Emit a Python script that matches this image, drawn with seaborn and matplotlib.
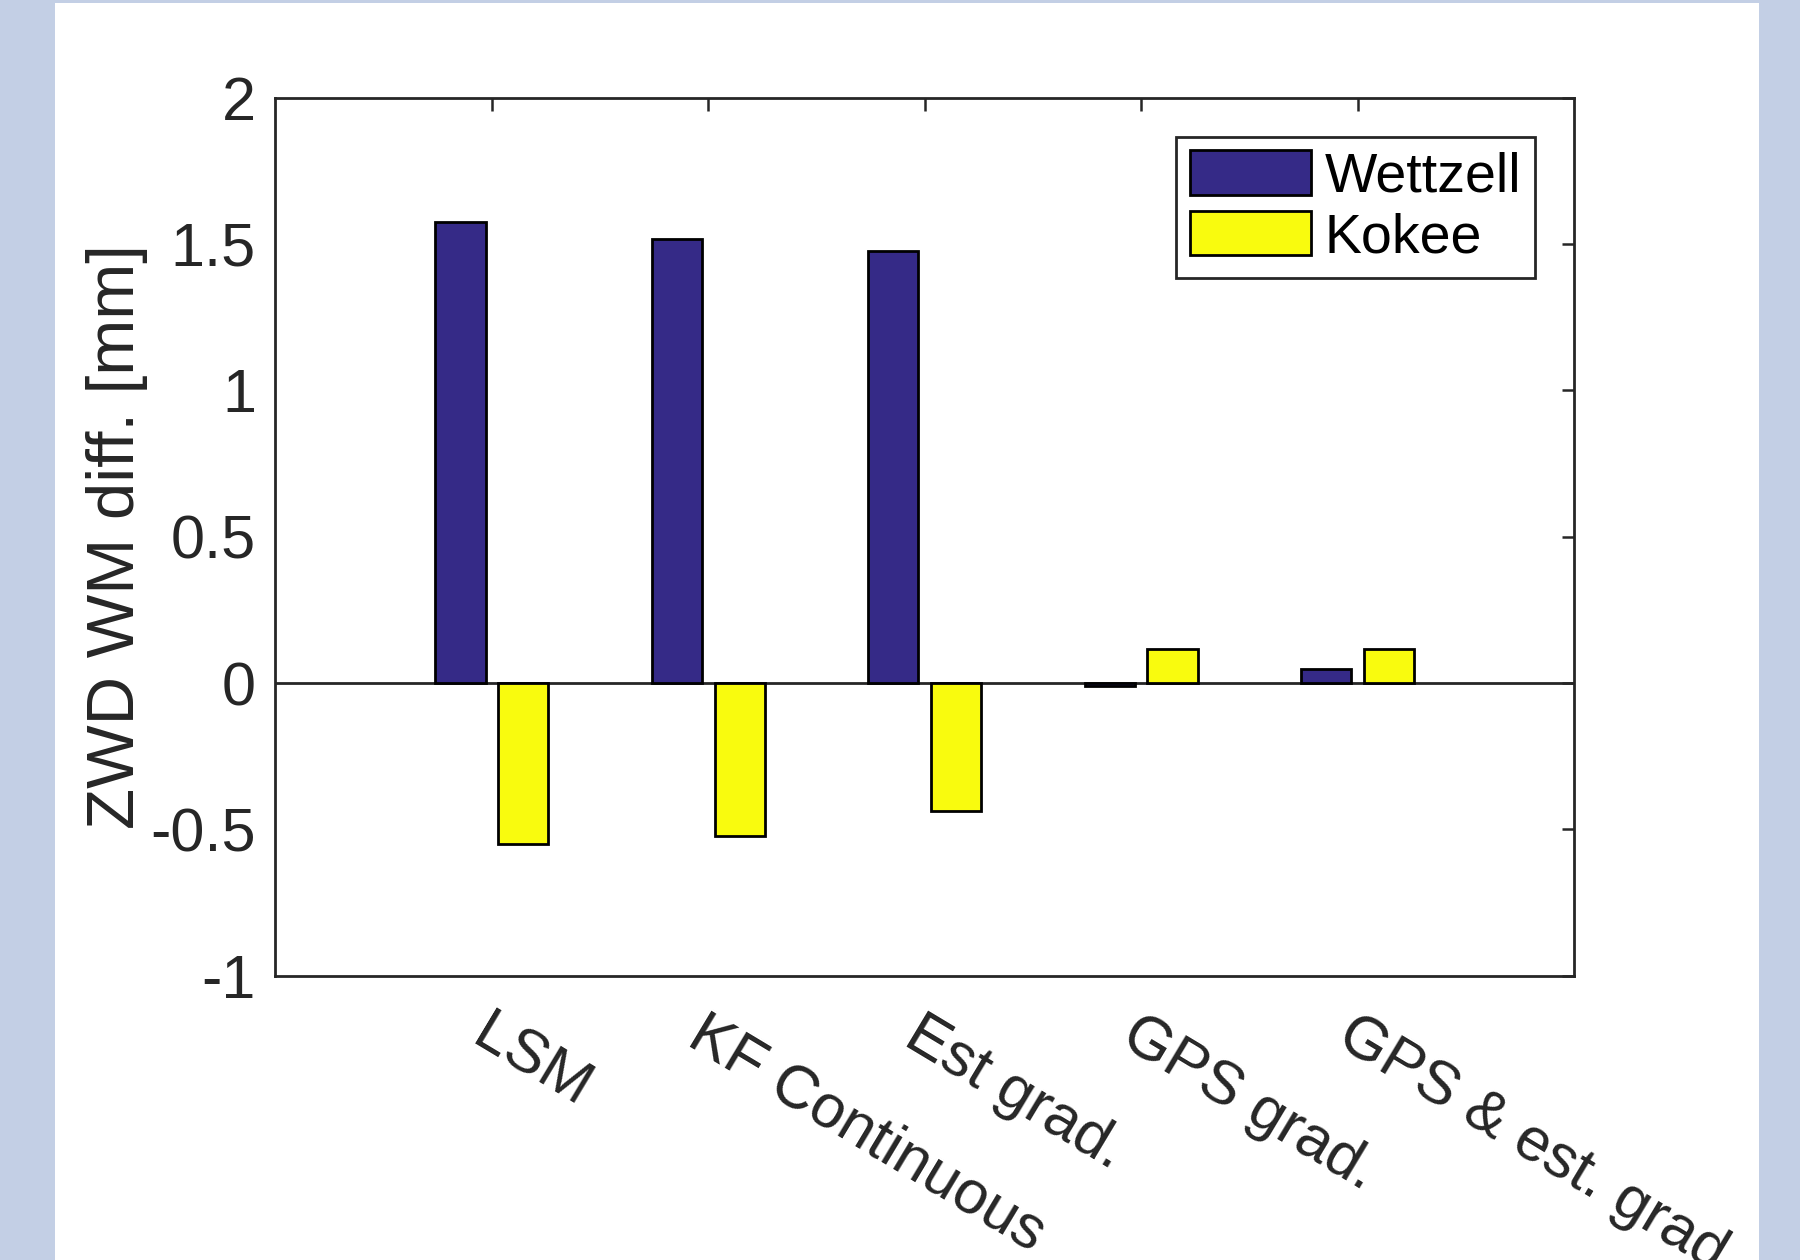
import numpy as np
import pandas as pd
import seaborn as sns
import matplotlib.pyplot as plt
from matplotlib.patches import Rectangle

categories = ["LSM", "KF Continuous", "Est grad.", "GPS grad.", "GPS & est. grad."]
wettzell = [1.576, 1.518, 1.475, -0.011, 0.047]
kokee = [-0.551, -0.523, -0.437, 0.117, 0.115]
stations = ["Wettzell", "Kokee"]
colors = ["#352a87", "#f9fb0e"]
ytick_vals = [-1, -0.5, 0, 0.5, 1, 1.5, 2]
ytick_labels = ["-1", "-0.5", "0", "0.5", "1", "1.5", "2"]


def main():
    df = pd.DataFrame({
        "method": categories * 2,
        "value": wettzell + kokee,
        "station": [stations[0]] * len(categories) + [stations[1]] * len(categories),
    })

    sns.set_style("white")
    plt.rcParams["font.family"] = ["Liberation Sans", "DejaVu Sans"]
    ink = "#262626"

    fig = plt.figure(figsize=(9, 6.3), dpi=200, facecolor="#c3cfe5")
    # white page area inside the blue margins
    fig.add_artist(Rectangle((0.0306, 0), 0.9467, 0.998, transform=fig.transFigure,
                             facecolor="white", edgecolor="none", zorder=-10))
    ax = fig.add_axes([0.153, 0.2256, 0.7215, 0.6969])

    sns.barplot(data=df, x="method", y="value", hue="station", palette=colors,
                saturation=1, width=0.58, gap=0.2, edgecolor="black", linewidth=1.0,
                errorbar=None, ax=ax, zorder=3)
    ax.axhline(0, color=ink, lw=1.0, zorder=2)

    ax.set_xlim(-1.0, 5.0)
    ax.set_ylim(-1, 2)
    ax.set_yticks(ytick_vals)
    ax.set_yticklabels(ytick_labels)
    ax.set_xticks(range(len(categories)))
    ax.set_xticklabels(categories, rotation=-31, ha="left", va="top",
                       rotation_mode="anchor")
    ax.set_xlabel("")
    ax.set_ylabel("ZWD WM diff. [mm]", fontsize=24.2, color=ink, labelpad=1)

    ax.tick_params(direction="in", length=4.5, width=0.9, top=True, right=True,
                   labelsize=22, colors=ink)
    ax.tick_params(axis="x", pad=11)
    ax.tick_params(axis="y", pad=7)
    for lab in ax.get_xticklabels():
        lab.set_x(lab.get_position()[0])
    for s in ax.spines.values():
        s.set_color(ink)
        s.set_linewidth(1.0)

    handles, labels = ax.get_legend_handles_labels()
    leg = ax.legend(handles, labels, loc="upper right", fontsize=20, frameon=True,
                    fancybox=False, edgecolor=ink, framealpha=1,
                    borderaxespad=0.7, handlelength=2.17, handleheight=0.86,
                    labelspacing=0.12, handletextpad=0.25, borderpad=0.25)
    leg.get_frame().set_linewidth(1.0)
    for t in leg.get_texts():
        t.set_color("black")

    fig.savefig("out.png", dpi=200, facecolor=fig.get_facecolor())


if __name__ == "__main__":
    main()
